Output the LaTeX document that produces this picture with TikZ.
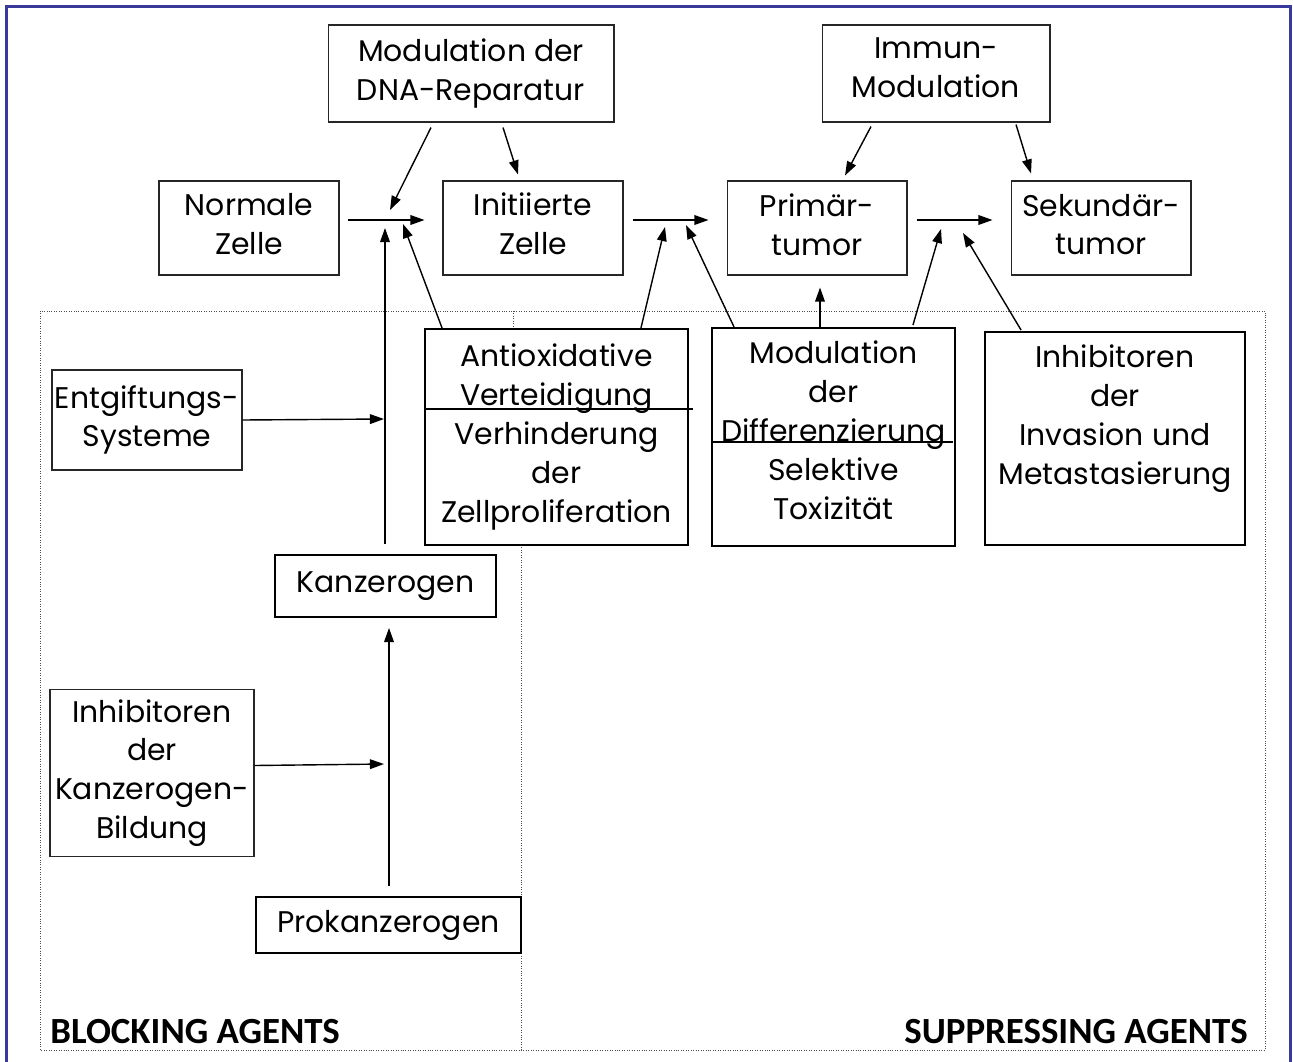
\documentclass[tikz,border=0pt]{standalone}
\usepackage{fontspec}
\setmainfont{Poppins}
\newfontfamily\agentfont{Carlito}
\usetikzlibrary{arrows.meta}
\definecolor{frameblue}{RGB}{58,58,156}

\begin{document}
\begin{tikzpicture}[x=0.02cm, y=-0.02cm,
    box/.style={draw=black!85, line width=0.6pt, fill=white, align=center, inner sep=1pt,
      font=\fontsize{17pt}{22.1pt}\selectfont},
    agentbox/.style={box, draw=black, line width=1.1pt},
    lift/.style={execute at end node={\rule[-#1]{0pt}{#1}}},
    arr/.style={-{Triangle[length=8pt,width=5.5pt]}, line width=0.8pt},
    agent/.style={inner sep=0pt, font=\agentfont\bfseries\fontsize{21pt}{25pt}\selectfont}]
    \useasboundingbox (0,0) rectangle (1293,1061);
    % frame round the page
    \draw[frameblue, line width=0.06cm] (6.5,6.5) rectangle (1290,1080);
    % dotted area of the agents
    \draw[densely dotted, line width=0.4pt, black!70] (40,311) rectangle (1265,1050);
    \draw[densely dotted, line width=0.4pt, black!70] (513,311) -- (513,330);
    \draw[densely dotted, line width=0.4pt, black!70] (521,545) -- (521,1050);
    % arrow heads meeting the stages
    \coordinate (tA) at (390,210);
    \coordinate (tB) at (385,228);
    \coordinate (tC) at (403,224);
    \coordinate (tD) at (665,227);
    \coordinate (tE) at (686,225);
    \coordinate (tF) at (941,229);
    \coordinate (tG) at (963,233);
    \coordinate (tH) at (384,419);
    \coordinate (tI) at (384,764);
    % stages
    \node[box, lift=0.08cm, minimum width=5.72cm, minimum height=1.94cm] (dna) at (471,73.5) {Modulation der\\DNA-Reparatur};
    \node[box, lift=0.22cm, minimum width=4.56cm, minimum height=1.94cm] (immun) at (936,73.5) {Immun-\\Modulation};
    \node[box, lift=0.16cm, minimum width=3.6cm, minimum height=1.88cm] (normale) at (249,228) {Normale\\Zelle};
    \node[box, lift=0.16cm, minimum width=3.6cm, minimum height=1.88cm] (initiiert) at (533,228) {Initiierte\\Zelle};
    \node[box, lift=0.14cm, minimum width=3.6cm, minimum height=1.88cm] (primaer) at (817,228) {Primär-\\tumor};
    \node[box, lift=0.14cm, minimum width=3.6cm, minimum height=1.88cm] (sekundaer) at (1101,228) {Sekundär-\\tumor};
    % agents
    \node[box, lift=0.16cm, minimum width=3.8cm, minimum height=2cm] (entgift) at (147,420) {Entgiftungs-\\Systeme};
    \node[agentbox, minimum width=5.26cm, minimum height=4.32cm] (antiox) at (556.5,437)
      {Antioxidative\\Verteidigung\\Verhinderung\\der\\Zellproliferation};
    \node[agentbox, lift=0.28cm, minimum width=4.86cm, minimum height=4.36cm] (differ) at (833.5,437)
      {Modulation\\der\\Differenzierung\\Selektive\\Toxizität};
    \node[agentbox, minimum width=5.2cm, minimum height=4.26cm] (invasion) at (1115,438.5) {};
    \node[align=center, inner sep=0pt, font=\fontsize{17pt}{22.1pt}\selectfont] (invasiontext) at (1115,418.5)
      {Inhibitoren\\der\\Invasion und\\Metastasierung};
    \node[agentbox, lift=0.12cm, minimum width=4.42cm, minimum height=1.24cm] (kanz) at (385.5,586) {Kanzerogen};
    \node[box, minimum width=4.08cm, minimum height=3.34cm] (inhkanz) at (152,773)
      {Inhibitoren\\der\\Kanzerogen-\\Bildung};
    \node[agentbox, minimum width=5.3cm, minimum height=1.12cm] (prokanz) at (388.5,925) {Prokanzerogen};
    % dividing lines in the agent boxes
    \draw[line width=1.1pt] ([shift={(2,81)}]antiox.north west) -- ([shift={(4,81)}]antiox.north east);
    \draw[line width=1.1pt] ([shift={(0,115)}]differ.north west) -- ([shift={(-3,115)}]differ.north east);
    % steps of the tumour
    \draw[arr] ([shift={(8,-8)}]normale.east) -- ([shift={(-18,-8)}]initiiert.west);
    \draw[arr] ([shift={(9,-8)}]initiiert.east) -- ([shift={(-18,-8)}]primaer.west);
    \draw[arr] ([shift={(9,-8)}]primaer.east) -- ([shift={(-18,-8)}]sekundaer.west);
    % modulation from above
    \draw[arr] ([shift={(-40,5)}]dna.south) -- (tA);
    \draw[arr] ([shift={(32,5)}]dna.south) -- ([shift={(-15,-6)}]initiiert.north);
    \draw[arr] ([shift={(-65,4)}]immun.south) -- ([shift={(28,-5)}]primaer.north);
    \draw[arr] ([shift={(80,2)}]immun.south) -- ([shift={(-70,-7)}]sekundaer.north);
    % blocking agents
    \draw[arr] ([shift={(-0.5,-10)}]kanz.north) -- (tB);
    \draw[arr] (entgift.east) -- (tH);
    \draw[arr] ([yshift=0.15cm]inhkanz.east) -- (tI);
    \draw[arr] ([shift={(0.5,-10)}]prokanz.north) -- ([shift={(3.5,10)}]kanz.south);
    % suppressing agents
    \draw[arr] ([shift={(18,0)}]antiox.north west) -- (tC);
    \draw[arr] ([shift={(-48,0)}]antiox.north east) -- (tD);
    \draw[arr] ([shift={(23,0)}]differ.north west) -- (tE);
    \draw[arr] ([shift={(-13.5,0)}]differ.north) -- ([shift={(3,12)}]primaer.south);
    \draw[arr] ([shift={(-43,-2)}]differ.north east) -- (tF);
    \draw[arr] ([shift={(37,-1)}]invasion.north west) -- (tG);
    % labels of the two areas
    \node[agent, anchor=base west] (blocking) at (50,1043) {BLOCKING AGENTS};
    \node[agent, anchor=base east] (suppressing) at (1248,1043) {SUPPRESSING AGENTS};
\end{tikzpicture}
\end{document}
